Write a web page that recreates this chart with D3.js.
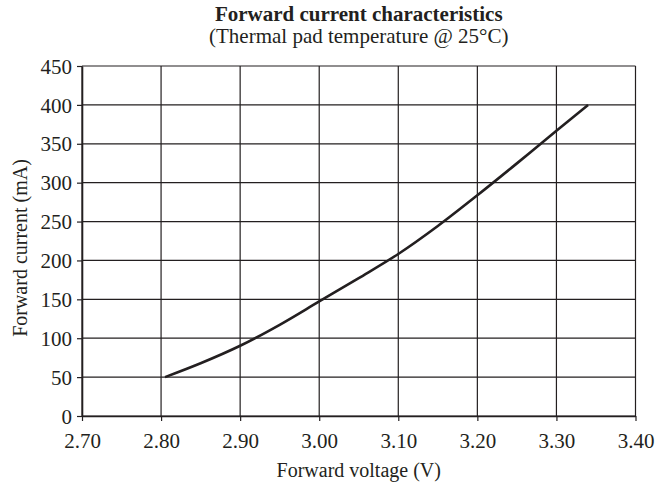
<!DOCTYPE html>
<html><head><meta charset="utf-8">
<script src="https://cdn.jsdelivr.net/npm/d3@7"></script>
<style>body{margin:0;background:#fff}svg{display:block}svg text{font-family:"Liberation Serif","Times New Roman",serif !important;fill:#231f20}</style>
</head><body>
<svg id="c" width="655" height="488"></svg>
<script>
const voltage = [2.805, 2.85, 2.90, 2.95, 3.00, 3.05, 3.10, 3.15, 3.20, 3.25, 3.30, 3.34];
const current = [50, 67.8, 90.3, 117.3, 147.3, 177.3, 208.3, 244.3, 283.8, 324.8, 366.8, 400];
const xTicks = [2.70, 2.80, 2.90, 3.00, 3.10, 3.20, 3.30, 3.40];
const yTicks = [0, 50, 100, 150, 200, 250, 300, 350, 400, 450];
const title = "Forward current characteristics";
const subtitle = "(Thermal pad temperature @ 25°C)";
const xTitle = "Forward voltage (V)";
const yTitle = "Forward current (mA)";

const svg = d3.select("#c");
const L = 82, R = 635.5, T = 66, B = 416;
const x = d3.scaleLinear().domain([2.70, 3.40]).range([L, R]);
const y = d3.scaleLinear().domain([0, 450]).range([B, T]);
const ink = "#231f20";
const serif = '"Liberation Serif","Times New Roman",serif';

// grid
svg.append("g").selectAll("line").data(yTicks).join("line")
  .attr("x1", L).attr("x2", R).attr("y1", d => y(d)).attr("y2", d => y(d))
  .attr("stroke", ink).attr("stroke-width", 1.2);
svg.append("g").selectAll("line").data(xTicks).join("line")
  .attr("y1", T).attr("y2", B).attr("x1", d => x(d)).attr("x2", d => x(d))
  .attr("stroke", ink).attr("stroke-width", 1.2);

// axes
const xa = svg.append("g").attr("transform", `translate(0,${B})`)
  .call(d3.axisBottom(x).tickValues(xTicks).tickFormat(d3.format(".2f")).tickSizeInner(5).tickSizeOuter(0).tickPadding(6));
const ya = svg.append("g").attr("transform", `translate(${L},0)`)
  .call(d3.axisLeft(y).tickValues(yTicks).tickSizeInner(5).tickSizeOuter(0).tickPadding(5));
[xa, ya].forEach(a => {
  a.attr("font-family", serif).style("font-family", serif);
  a.select(".domain").attr("stroke", ink).attr("stroke-width", 1.6);
  a.selectAll(".tick line").attr("stroke", ink).attr("stroke-width", 1.2);
  a.selectAll(".tick text").attr("font-size", 21).style("font-family", serif).attr("fill", ink);
});
xa.selectAll(".tick text").attr("dy", null).attr("y", 32);
ya.selectAll(".tick text").attr("dy", "0.34em");

// curve
const pts = voltage.map((v, i) => [v, current[i]]);
svg.append("path").datum(pts)
  .attr("d", d3.line().x(d => x(d[0])).y(d => y(d[1])).curve(d3.curveCatmullRom.alpha(0.5)))
  .attr("fill", "none").attr("stroke", ink).attr("stroke-width", 2.6);

// titles
const cx = (L + R) / 2;
svg.append("text").attr("x", cx).attr("y", 21).attr("text-anchor", "middle")
  .attr("font-size", 21).attr("font-weight", "bold").text(title);
svg.append("text").attr("x", cx).attr("y", 43).attr("text-anchor", "middle")
  .attr("font-size", 21).text(subtitle);
svg.append("text").attr("x", cx).attr("y", 477).attr("text-anchor", "middle")
  .attr("font-size", 20).text(xTitle);
svg.append("text").attr("transform", `translate(27,248) rotate(-90)`).attr("text-anchor", "middle")
  .attr("font-size", 20).text(yTitle);
</script>
</body></html>
